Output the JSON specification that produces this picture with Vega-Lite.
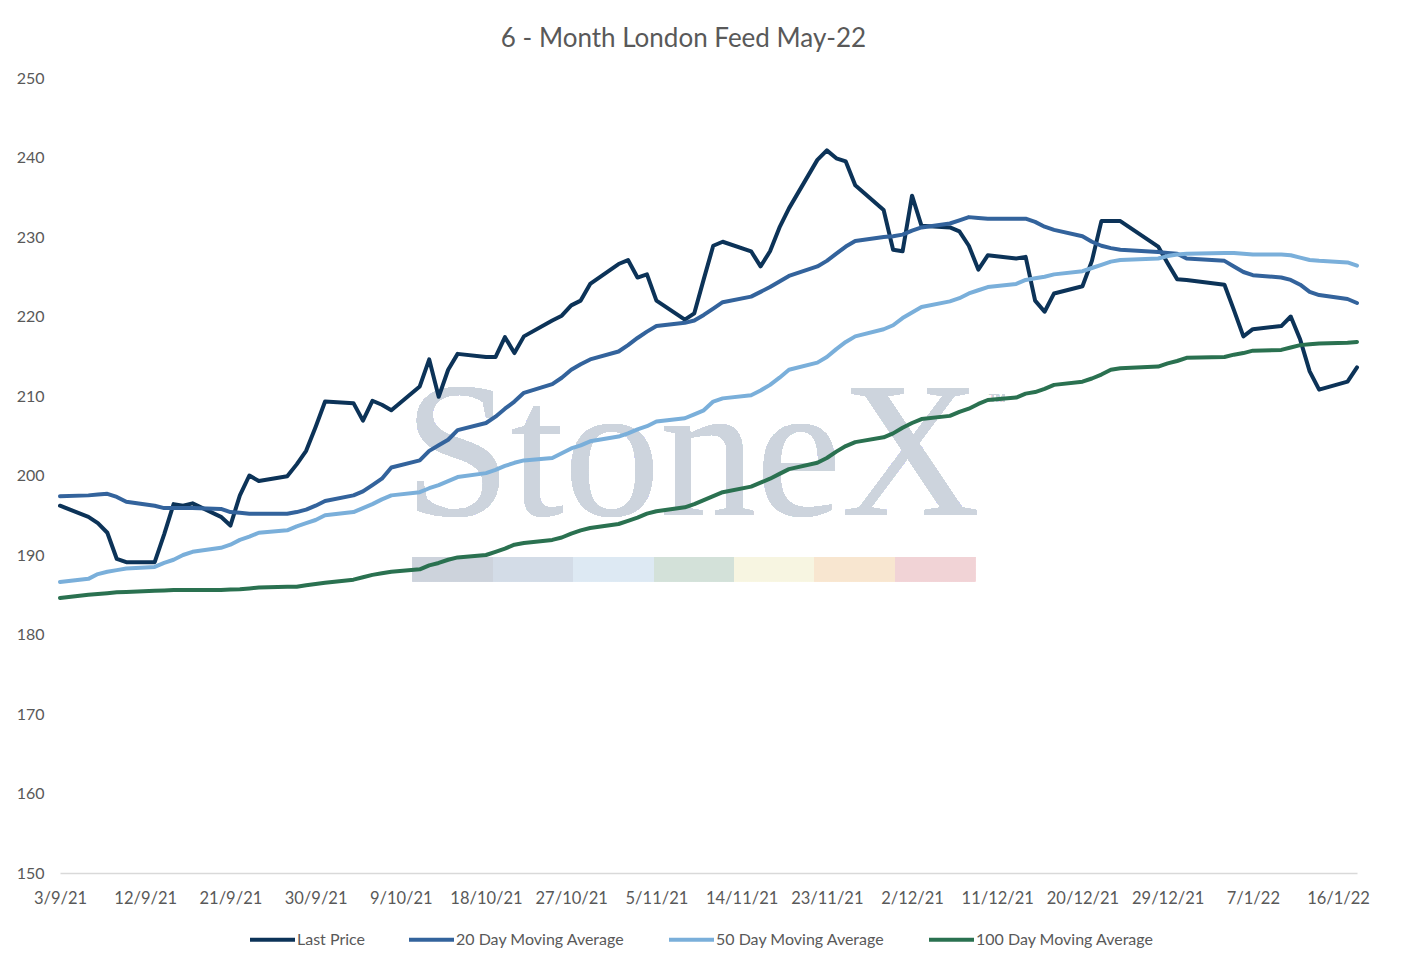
{
  "$schema": "https://vega.github.io/schema/vega-lite/v6.json",
  "autosize": {"type": "none"},
  "padding": {"left": 60, "top": 78, "right": 55, "bottom": 98},
  "width": 1297,
  "height": 795,
  "background": "white",
  "title": {
    "text": "6 - Month London Feed May-22",
    "font": "Lato",
    "fontSize": 26,
    "fontWeight": "normal",
    "color": "#595959",
    "anchor": "middle",
    "dx": -25,
    "offset": 18
  },
  "config": {
    "view": {"stroke": null},
    "font": "Lato"
  },
  "data": {
    "values": [
      {"date": "2021-09-03", "Last Price": 196.2, "20 Day Moving Average": 197.4, "50 Day Moving Average": 186.6, "100 Day Moving Average": 184.6},
      {"date": "2021-09-06", "Last Price": 194.8, "20 Day Moving Average": 197.5, "50 Day Moving Average": 187.0, "100 Day Moving Average": 185.0},
      {"date": "2021-09-07", "Last Price": 194.0, "20 Day Moving Average": 197.6, "50 Day Moving Average": 187.6, "100 Day Moving Average": 185.1},
      {"date": "2021-09-08", "Last Price": 192.8, "20 Day Moving Average": 197.7, "50 Day Moving Average": 187.9, "100 Day Moving Average": 185.2},
      {"date": "2021-09-09", "Last Price": 189.5, "20 Day Moving Average": 197.3, "50 Day Moving Average": 188.1, "100 Day Moving Average": 185.3},
      {"date": "2021-09-10", "Last Price": 189.1, "20 Day Moving Average": 196.7, "50 Day Moving Average": 188.3, "100 Day Moving Average": 185.35},
      {"date": "2021-09-13", "Last Price": 189.1, "20 Day Moving Average": 196.2, "50 Day Moving Average": 188.5, "100 Day Moving Average": 185.5},
      {"date": "2021-09-14", "Last Price": 192.6, "20 Day Moving Average": 195.9, "50 Day Moving Average": 189.0, "100 Day Moving Average": 185.55},
      {"date": "2021-09-15", "Last Price": 196.4, "20 Day Moving Average": 195.9, "50 Day Moving Average": 189.4, "100 Day Moving Average": 185.6},
      {"date": "2021-09-16", "Last Price": 196.2, "20 Day Moving Average": 195.9, "50 Day Moving Average": 190.0, "100 Day Moving Average": 185.6},
      {"date": "2021-09-17", "Last Price": 196.5, "20 Day Moving Average": 195.9, "50 Day Moving Average": 190.4, "100 Day Moving Average": 185.6},
      {"date": "2021-09-20", "Last Price": 194.8, "20 Day Moving Average": 195.8, "50 Day Moving Average": 190.9, "100 Day Moving Average": 185.6},
      {"date": "2021-09-21", "Last Price": 193.7, "20 Day Moving Average": 195.4, "50 Day Moving Average": 191.3, "100 Day Moving Average": 185.65},
      {"date": "2021-09-22", "Last Price": 197.5, "20 Day Moving Average": 195.3, "50 Day Moving Average": 191.9, "100 Day Moving Average": 185.7},
      {"date": "2021-09-23", "Last Price": 200.0, "20 Day Moving Average": 195.2, "50 Day Moving Average": 192.3, "100 Day Moving Average": 185.8},
      {"date": "2021-09-24", "Last Price": 199.3, "20 Day Moving Average": 195.2, "50 Day Moving Average": 192.8, "100 Day Moving Average": 185.9},
      {"date": "2021-09-27", "Last Price": 199.9, "20 Day Moving Average": 195.2, "50 Day Moving Average": 193.1, "100 Day Moving Average": 186.0},
      {"date": "2021-09-28", "Last Price": 201.4, "20 Day Moving Average": 195.4, "50 Day Moving Average": 193.6, "100 Day Moving Average": 186.0},
      {"date": "2021-09-29", "Last Price": 203.1, "20 Day Moving Average": 195.7, "50 Day Moving Average": 194.0, "100 Day Moving Average": 186.2},
      {"date": "2021-09-30", "Last Price": 206.1, "20 Day Moving Average": 196.2, "50 Day Moving Average": 194.4, "100 Day Moving Average": 186.35},
      {"date": "2021-10-01", "Last Price": 209.3, "20 Day Moving Average": 196.8, "50 Day Moving Average": 195.0, "100 Day Moving Average": 186.5},
      {"date": "2021-10-04", "Last Price": 209.1, "20 Day Moving Average": 197.5, "50 Day Moving Average": 195.4, "100 Day Moving Average": 186.9},
      {"date": "2021-10-05", "Last Price": 206.9, "20 Day Moving Average": 198.0, "50 Day Moving Average": 195.9, "100 Day Moving Average": 187.2},
      {"date": "2021-10-06", "Last Price": 209.4, "20 Day Moving Average": 198.8, "50 Day Moving Average": 196.4, "100 Day Moving Average": 187.5},
      {"date": "2021-10-07", "Last Price": 208.9, "20 Day Moving Average": 199.6, "50 Day Moving Average": 197.0, "100 Day Moving Average": 187.7},
      {"date": "2021-10-08", "Last Price": 208.2, "20 Day Moving Average": 201.0, "50 Day Moving Average": 197.5, "100 Day Moving Average": 187.9},
      {"date": "2021-10-11", "Last Price": 211.2, "20 Day Moving Average": 201.9, "50 Day Moving Average": 197.9, "100 Day Moving Average": 188.2},
      {"date": "2021-10-12", "Last Price": 214.6, "20 Day Moving Average": 203.1, "50 Day Moving Average": 198.4, "100 Day Moving Average": 188.7},
      {"date": "2021-10-13", "Last Price": 209.9, "20 Day Moving Average": 203.8, "50 Day Moving Average": 198.8, "100 Day Moving Average": 189.0},
      {"date": "2021-10-14", "Last Price": 213.3, "20 Day Moving Average": 204.5, "50 Day Moving Average": 199.3, "100 Day Moving Average": 189.4},
      {"date": "2021-10-15", "Last Price": 215.3, "20 Day Moving Average": 205.7, "50 Day Moving Average": 199.8, "100 Day Moving Average": 189.7},
      {"date": "2021-10-18", "Last Price": 214.9, "20 Day Moving Average": 206.6, "50 Day Moving Average": 200.3, "100 Day Moving Average": 190.0},
      {"date": "2021-10-19", "Last Price": 214.9, "20 Day Moving Average": 207.4, "50 Day Moving Average": 200.7, "100 Day Moving Average": 190.4},
      {"date": "2021-10-20", "Last Price": 217.4, "20 Day Moving Average": 208.4, "50 Day Moving Average": 201.2, "100 Day Moving Average": 190.8},
      {"date": "2021-10-21", "Last Price": 215.4, "20 Day Moving Average": 209.3, "50 Day Moving Average": 201.6, "100 Day Moving Average": 191.3},
      {"date": "2021-10-22", "Last Price": 217.5, "20 Day Moving Average": 210.4, "50 Day Moving Average": 201.9, "100 Day Moving Average": 191.5},
      {"date": "2021-10-25", "Last Price": 219.5, "20 Day Moving Average": 211.5, "50 Day Moving Average": 202.2, "100 Day Moving Average": 191.9},
      {"date": "2021-10-26", "Last Price": 220.1, "20 Day Moving Average": 212.3, "50 Day Moving Average": 202.8, "100 Day Moving Average": 192.2},
      {"date": "2021-10-27", "Last Price": 221.4, "20 Day Moving Average": 213.3, "50 Day Moving Average": 203.4, "100 Day Moving Average": 192.7},
      {"date": "2021-10-28", "Last Price": 222.0, "20 Day Moving Average": 214.0, "50 Day Moving Average": 203.8, "100 Day Moving Average": 193.1},
      {"date": "2021-10-29", "Last Price": 224.1, "20 Day Moving Average": 214.6, "50 Day Moving Average": 204.3, "100 Day Moving Average": 193.4},
      {"date": "2021-11-01", "Last Price": 226.6, "20 Day Moving Average": 215.6, "50 Day Moving Average": 204.9, "100 Day Moving Average": 193.9},
      {"date": "2021-11-02", "Last Price": 227.1, "20 Day Moving Average": 216.4, "50 Day Moving Average": 205.3, "100 Day Moving Average": 194.3},
      {"date": "2021-11-03", "Last Price": 224.9, "20 Day Moving Average": 217.3, "50 Day Moving Average": 205.8, "100 Day Moving Average": 194.7},
      {"date": "2021-11-04", "Last Price": 225.3, "20 Day Moving Average": 218.1, "50 Day Moving Average": 206.2, "100 Day Moving Average": 195.2},
      {"date": "2021-11-05", "Last Price": 222.0, "20 Day Moving Average": 218.8, "50 Day Moving Average": 206.8, "100 Day Moving Average": 195.5},
      {"date": "2021-11-08", "Last Price": 219.6, "20 Day Moving Average": 219.2, "50 Day Moving Average": 207.2, "100 Day Moving Average": 196.0},
      {"date": "2021-11-09", "Last Price": 220.4, "20 Day Moving Average": 219.5, "50 Day Moving Average": 207.7, "100 Day Moving Average": 196.4},
      {"date": "2021-11-10", "Last Price": 224.7, "20 Day Moving Average": 220.2, "50 Day Moving Average": 208.2, "100 Day Moving Average": 196.9},
      {"date": "2021-11-11", "Last Price": 228.9, "20 Day Moving Average": 221.0, "50 Day Moving Average": 209.3, "100 Day Moving Average": 197.4},
      {"date": "2021-11-12", "Last Price": 229.4, "20 Day Moving Average": 221.8, "50 Day Moving Average": 209.7, "100 Day Moving Average": 197.9},
      {"date": "2021-11-15", "Last Price": 228.2, "20 Day Moving Average": 222.5, "50 Day Moving Average": 210.1, "100 Day Moving Average": 198.6},
      {"date": "2021-11-16", "Last Price": 226.3, "20 Day Moving Average": 223.1, "50 Day Moving Average": 210.7, "100 Day Moving Average": 199.1},
      {"date": "2021-11-17", "Last Price": 228.2, "20 Day Moving Average": 223.7, "50 Day Moving Average": 211.4, "100 Day Moving Average": 199.6},
      {"date": "2021-11-18", "Last Price": 231.2, "20 Day Moving Average": 224.4, "50 Day Moving Average": 212.3, "100 Day Moving Average": 200.2},
      {"date": "2021-11-19", "Last Price": 233.6, "20 Day Moving Average": 225.1, "50 Day Moving Average": 213.3, "100 Day Moving Average": 200.8},
      {"date": "2021-11-22", "Last Price": 239.7, "20 Day Moving Average": 226.3, "50 Day Moving Average": 214.2, "100 Day Moving Average": 201.6},
      {"date": "2021-11-23", "Last Price": 240.9, "20 Day Moving Average": 227.0, "50 Day Moving Average": 214.9, "100 Day Moving Average": 202.2},
      {"date": "2021-11-24", "Last Price": 239.9, "20 Day Moving Average": 227.9, "50 Day Moving Average": 215.9, "100 Day Moving Average": 203.0},
      {"date": "2021-11-25", "Last Price": 239.5, "20 Day Moving Average": 228.8, "50 Day Moving Average": 216.8, "100 Day Moving Average": 203.7},
      {"date": "2021-11-26", "Last Price": 236.5, "20 Day Moving Average": 229.5, "50 Day Moving Average": 217.5, "100 Day Moving Average": 204.2},
      {"date": "2021-11-29", "Last Price": 233.4, "20 Day Moving Average": 230.0, "50 Day Moving Average": 218.4, "100 Day Moving Average": 204.8},
      {"date": "2021-11-30", "Last Price": 228.4, "20 Day Moving Average": 230.1, "50 Day Moving Average": 218.9, "100 Day Moving Average": 205.3},
      {"date": "2021-12-01", "Last Price": 228.2, "20 Day Moving Average": 230.3, "50 Day Moving Average": 219.8, "100 Day Moving Average": 206.0},
      {"date": "2021-12-02", "Last Price": 235.2, "20 Day Moving Average": 230.8, "50 Day Moving Average": 220.5, "100 Day Moving Average": 206.6},
      {"date": "2021-12-03", "Last Price": 231.4, "20 Day Moving Average": 231.2, "50 Day Moving Average": 221.2, "100 Day Moving Average": 207.1},
      {"date": "2021-12-06", "Last Price": 231.2, "20 Day Moving Average": 231.7, "50 Day Moving Average": 221.9, "100 Day Moving Average": 207.5},
      {"date": "2021-12-07", "Last Price": 230.7, "20 Day Moving Average": 232.1, "50 Day Moving Average": 222.3, "100 Day Moving Average": 208.0},
      {"date": "2021-12-08", "Last Price": 228.9, "20 Day Moving Average": 232.5, "50 Day Moving Average": 222.9, "100 Day Moving Average": 208.4},
      {"date": "2021-12-09", "Last Price": 225.9, "20 Day Moving Average": 232.4, "50 Day Moving Average": 223.3, "100 Day Moving Average": 209.0},
      {"date": "2021-12-10", "Last Price": 227.7, "20 Day Moving Average": 232.3, "50 Day Moving Average": 223.7, "100 Day Moving Average": 209.5},
      {"date": "2021-12-13", "Last Price": 227.3, "20 Day Moving Average": 232.3, "50 Day Moving Average": 224.1, "100 Day Moving Average": 209.8},
      {"date": "2021-12-14", "Last Price": 227.5, "20 Day Moving Average": 232.3, "50 Day Moving Average": 224.6, "100 Day Moving Average": 210.3},
      {"date": "2021-12-15", "Last Price": 222.0, "20 Day Moving Average": 231.9, "50 Day Moving Average": 224.8, "100 Day Moving Average": 210.5},
      {"date": "2021-12-16", "Last Price": 220.6, "20 Day Moving Average": 231.3, "50 Day Moving Average": 225.0, "100 Day Moving Average": 210.9},
      {"date": "2021-12-17", "Last Price": 222.9, "20 Day Moving Average": 230.9, "50 Day Moving Average": 225.3, "100 Day Moving Average": 211.4},
      {"date": "2021-12-20", "Last Price": 223.8, "20 Day Moving Average": 230.1, "50 Day Moving Average": 225.7, "100 Day Moving Average": 211.8},
      {"date": "2021-12-21", "Last Price": 227.0, "20 Day Moving Average": 229.4, "50 Day Moving Average": 226.1, "100 Day Moving Average": 212.2},
      {"date": "2021-12-22", "Last Price": 232.0, "20 Day Moving Average": 228.9, "50 Day Moving Average": 226.5, "100 Day Moving Average": 212.7},
      {"date": "2021-12-23", "Last Price": 232.0, "20 Day Moving Average": 228.6, "50 Day Moving Average": 226.9, "100 Day Moving Average": 213.3},
      {"date": "2021-12-24", "Last Price": 232.0, "20 Day Moving Average": 228.4, "50 Day Moving Average": 227.1, "100 Day Moving Average": 213.5},
      {"date": "2021-12-28", "Last Price": 228.8, "20 Day Moving Average": 228.1, "50 Day Moving Average": 227.3, "100 Day Moving Average": 213.7},
      {"date": "2021-12-29", "Last Price": 226.7, "20 Day Moving Average": 228.0, "50 Day Moving Average": 227.6, "100 Day Moving Average": 214.1},
      {"date": "2021-12-30", "Last Price": 224.7, "20 Day Moving Average": 227.9, "50 Day Moving Average": 227.8, "100 Day Moving Average": 214.4},
      {"date": "2021-12-31", "Last Price": 224.6, "20 Day Moving Average": 227.3, "50 Day Moving Average": 227.9, "100 Day Moving Average": 214.8},
      {"date": "2022-01-04", "Last Price": 224.0, "20 Day Moving Average": 227.0, "50 Day Moving Average": 228.0, "100 Day Moving Average": 214.9},
      {"date": "2022-01-05", "Last Price": 220.8, "20 Day Moving Average": 226.3, "50 Day Moving Average": 228.0, "100 Day Moving Average": 215.2},
      {"date": "2022-01-06", "Last Price": 217.5, "20 Day Moving Average": 225.6, "50 Day Moving Average": 227.9, "100 Day Moving Average": 215.4},
      {"date": "2022-01-07", "Last Price": 218.4, "20 Day Moving Average": 225.2, "50 Day Moving Average": 227.8, "100 Day Moving Average": 215.7},
      {"date": "2022-01-10", "Last Price": 218.8, "20 Day Moving Average": 224.9, "50 Day Moving Average": 227.8, "100 Day Moving Average": 215.8},
      {"date": "2022-01-11", "Last Price": 220.0, "20 Day Moving Average": 224.6, "50 Day Moving Average": 227.7, "100 Day Moving Average": 216.1},
      {"date": "2022-01-12", "Last Price": 217.1, "20 Day Moving Average": 224.0, "50 Day Moving Average": 227.4, "100 Day Moving Average": 216.4},
      {"date": "2022-01-13", "Last Price": 213.1, "20 Day Moving Average": 223.1, "50 Day Moving Average": 227.1, "100 Day Moving Average": 216.5},
      {"date": "2022-01-14", "Last Price": 210.8, "20 Day Moving Average": 222.7, "50 Day Moving Average": 227.0, "100 Day Moving Average": 216.6},
      {"date": "2022-01-17", "Last Price": 211.8, "20 Day Moving Average": 222.2, "50 Day Moving Average": 226.8, "100 Day Moving Average": 216.7},
      {"date": "2022-01-18", "Last Price": 213.6, "20 Day Moving Average": 221.7, "50 Day Moving Average": 226.4, "100 Day Moving Average": 216.8}
    ]
  },
  "layer": [
    {
      "mark": {"type": "rect", "fill": {"gradient": "linear", "x1": 0, "x2": 1, "y1": 0, "y2": 0, "stops": [
        {"offset": 0, "color": "#cdd3dc"}, {"offset": 0.1428, "color": "#cdd3dc"},
        {"offset": 0.1429, "color": "#d3dce7"}, {"offset": 0.2856, "color": "#d3dce7"},
        {"offset": 0.2857, "color": "#dde9f3"}, {"offset": 0.4285, "color": "#dde9f3"},
        {"offset": 0.4286, "color": "#d3e1d9"}, {"offset": 0.5713, "color": "#d3e1d9"},
        {"offset": 0.5714, "color": "#f7f5e1"}, {"offset": 0.7141, "color": "#f7f5e1"},
        {"offset": 0.7142, "color": "#f8e6d0"}, {"offset": 0.857, "color": "#f8e6d0"},
        {"offset": 0.8571, "color": "#f1d3d6"}, {"offset": 1, "color": "#f1d3d6"}
      ]}},
      "encoding": {
        "x": {"datum": {"year": 2021, "month": 10, "date": 10, "hours": 6, "utc": true}, "type": "temporal"},
        "x2": {"datum": {"year": 2021, "month": 12, "date": 8, "hours": 16, "utc": true}},
        "y": {"datum": 189.75, "type": "quantitative"},
        "y2": {"datum": 186.7}
      }
    },
    {
      "mark": {"type": "text", "text": "StoneX", "font": "Liberation Serif", "fontSize": 192, "color": "#cdd4dd", "align": "center", "baseline": "alphabetic"},
      "encoding": {
        "x": {"datum": {"year": 2021, "month": 11, "date": 8, "hours": 18, "utc": true}, "type": "temporal"},
        "y": {"datum": 195.0, "type": "quantitative"}
      }
    },
    {
      "mark": {"type": "text", "text": "TM", "font": "Liberation Sans", "fontSize": 11, "color": "#cdd4dd", "align": "center", "baseline": "middle"},
      "encoding": {
        "x": {"datum": {"year": 2021, "month": 12, "date": 11, "utc": true}, "type": "temporal"},
        "y": {"datum": 209.6, "type": "quantitative"}
      }
    },
    {
      "transform": [
        {"fold": ["Last Price", "20 Day Moving Average", "50 Day Moving Average", "100 Day Moving Average"], "as": ["series", "value"]}
      ],
      "mark": {"type": "line", "strokeWidth": 4, "strokeCap": "round", "strokeJoin": "round"},
      "encoding": {
        "x": {
          "field": "date", "type": "temporal",
          "scale": {"type": "utc", "domain": [{"year": 2021, "month": 9, "date": 3, "utc": true}, {"year": 2022, "month": 1, "date": 18, "utc": true}]},
          "axis": {
            "title": null,
            "format": "%-d/%-m/%y",
            "values": [
              {"year": 2021, "month": 9, "date": 3, "utc": true},
              {"year": 2021, "month": 9, "date": 12, "utc": true},
              {"year": 2021, "month": 9, "date": 21, "utc": true},
              {"year": 2021, "month": 9, "date": 30, "utc": true},
              {"year": 2021, "month": 10, "date": 9, "utc": true},
              {"year": 2021, "month": 10, "date": 18, "utc": true},
              {"year": 2021, "month": 10, "date": 27, "utc": true},
              {"year": 2021, "month": 11, "date": 5, "utc": true},
              {"year": 2021, "month": 11, "date": 14, "utc": true},
              {"year": 2021, "month": 11, "date": 23, "utc": true},
              {"year": 2021, "month": 12, "date": 2, "utc": true},
              {"year": 2021, "month": 12, "date": 11, "utc": true},
              {"year": 2021, "month": 12, "date": 20, "utc": true},
              {"year": 2021, "month": 12, "date": 29, "utc": true},
              {"year": 2022, "month": 1, "date": 7, "utc": true},
              {"year": 2022, "month": 1, "date": 16, "utc": true}
            ],
            "grid": false,
            "ticks": false,
            "domainColor": "#d9d9d9",
            "domainWidth": 1.5,
            "labelFont": "Lato",
            "labelFontSize": 16.5,
            "labelColor": "#595959",
            "labelPadding": 17,
            "labelOverlap": false,
            "labelFlush": false
          }
        },
        "y": {
          "field": "value", "type": "quantitative",
          "scale": {"domain": [150, 250], "nice": false, "zero": false},
          "axis": {
            "title": null,
            "values": [150, 160, 170, 180, 190, 200, 210, 220, 230, 240, 250],
            "grid": false,
            "ticks": false,
            "domain": false,
            "labelFont": "Lato",
            "labelFontSize": 16,
            "labelColor": "#595959",
            "labelPadding": 16
          }
        },
        "color": {
          "field": "series", "type": "nominal",
          "sort": ["Last Price", "20 Day Moving Average", "50 Day Moving Average", "100 Day Moving Average"],
          "scale": {
            "domain": ["Last Price", "20 Day Moving Average", "50 Day Moving Average", "100 Day Moving Average"],
            "range": ["#0c3358", "#33639c", "#7aafda", "#2a7150"]
          },
          "legend": {
            "title": null,
            "orient": "none",
            "direction": "horizontal",
            "legendX": 188,
            "legendY": 837,
            "symbolType": "stroke",
            "symbolSize": 2025,
            "symbolStrokeWidth": 4,
            "labelFont": "Lato",
            "labelFontSize": 16,
            "labelColor": "#595959",
            "labelOffset": 0,
            "labelLimit": 0,
            "columnPadding": 36
          }
        }
      }
    }
  ]
}
